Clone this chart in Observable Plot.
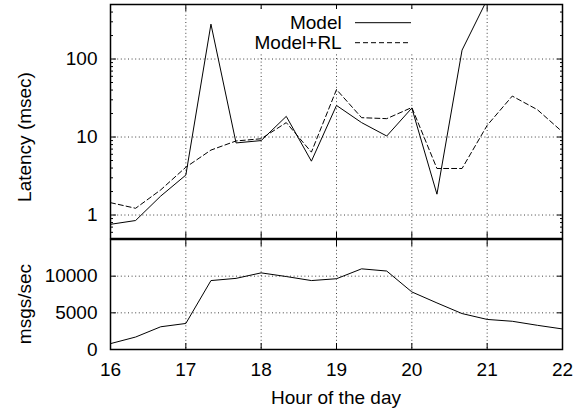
<!DOCTYPE html>
<html><head><meta charset="utf-8">
<script src="https://cdn.jsdelivr.net/npm/d3@7"></script>
<script src="https://cdn.jsdelivr.net/npm/@observablehq/plot@0.6"></script>
<style>
body{margin:0;background:#fff;}
#wrap{position:relative;width:584px;height:412px;font-family:"Liberation Sans",Arial,Helvetica,sans-serif;color:#000;}
#wrap svg{display:block}
.lab{position:absolute;font-size:19px;line-height:19px;white-space:nowrap;}
.rot{transform:translate(-50%,-50%) rotate(-90deg);}
</style></head><body><div id="wrap"></div>
<script>
// ---- data ----
const hours = [16, 16.3333, 16.6667, 17, 17.3333, 17.6667, 18, 18.3333, 18.6667, 19, 19.3333, 19.6667, 20, 20.3333, 20.6667, 21, 21.3333, 21.6667, 22];
const model = [0.76, 0.85, 1.75, 3.25, 280, 8.4, 9.0, 18.4, 4.9, 25.4, 15.3, 10.3, 23.5, 1.85, 130, 580, null, null, null];
const modelRL = [1.44, 1.22, 2.1, 4.1, 6.8, 8.9, 9.5, 15.3, 6.4, 40.6, 17.7, 17.2, 23.9, 3.95, 3.95, 14.1, 33.5, 22.4, 11.6];
const msgsPerSec = [800, 1700, 3100, 3550, 9400, 9700, 10450, 9950, 9400, 9650, 11000, 10700, 7850, 6350, 4900, 4100, 3850, 3300, 2800];
const series = ["Model", "Model+RL"];
const xTicks = [16, 17, 18, 19, 20, 21, 22];
const latTicks = [1, 10, 100];
const latMinor = [0.6, 0.7, 0.8, 0.9, 2, 3, 4, 5, 6, 7, 8, 9, 20, 30, 40, 50, 60, 70, 80, 90, 200, 300, 400];
const rateTicks = [0, 5000, 10000];
const xLabel = "Hour of the day";
const yLabelTop = "Latency (msec)";
const yLabelBottom = "msgs/sec";

// ---- tables ----
const lat = hours.map((h, i) => ({h, model: model[i], rl: modelRL[i]}));
const rate = hours.map((h, i) => ({h, v: msgsPerSec[i]}));

const font = '"Liberation Sans", Arial, Helvetica, sans-serif';
const style = {fontFamily: font, fontSize: "19px", color: "black", background: "white", overflow: "visible"};
const grid = {stroke: "black", strokeOpacity: 0.75, strokeWidth: 1, strokeDasharray: "1,2.6"};
const blank = () => "";

const topPlot = Plot.plot({
  width: 584, height: 239, marginLeft: 110, marginRight: 22, marginTop: 4, marginBottom: 1,
  style,
  x: {domain: [16, 22]},
  y: {type: "log", domain: [0.5, 500]},
  marks: [
    Plot.gridX(xTicks, grid),
    Plot.gridY(latTicks, grid),
    Plot.axisX(xTicks, {anchor: "bottom", tickSize: -6, tickFormat: blank, label: null}),
    Plot.axisX(xTicks, {anchor: "top", tickSize: -6, tickFormat: blank, label: null}),
    Plot.axisY(latTicks, {anchor: "left", tickSize: -6, tickPadding: 19, tickFormat: d => String(d), label: null}),
    Plot.axisY(latTicks, {anchor: "right", tickSize: -6, tickFormat: blank, label: null}),
    Plot.axisY(latMinor, {anchor: "left", tickSize: -3, tickFormat: blank, label: null}),
    Plot.axisY(latMinor, {anchor: "right", tickSize: -3, tickFormat: blank, label: null}),
    Plot.line(lat, {x: "h", y: "model", stroke: "black", strokeWidth: 1, clip: true}),
    Plot.line(lat, {x: "h", y: "rl", stroke: "black", strokeWidth: 1, strokeDasharray: "5,3", clip: true}),
    Plot.frame({stroke: "black", strokeWidth: 1.5})
  ]
});

const bottomPlot = Plot.plot({
  width: 584, height: 173, marginLeft: 110, marginRight: 22, marginTop: 0, marginBottom: 63,
  style,
  x: {domain: [16, 22]},
  y: {domain: [0, 15000]},
  marks: [
    Plot.gridX(xTicks, grid),
    Plot.gridY(rateTicks.filter(d => d > 0), grid),
    Plot.axisX(xTicks, {anchor: "bottom", tickSize: -6, tickPadding: 19, tickFormat: d => String(d), label: null}),
    Plot.axisX(xTicks, {anchor: "top", tickSize: -6, tickFormat: blank, label: null}),
    Plot.axisY(rateTicks, {anchor: "left", tickSize: -6, tickPadding: 19, tickFormat: d => String(d), label: null}),
    Plot.axisY(rateTicks, {anchor: "right", tickSize: -6, tickFormat: blank, label: null}),
    Plot.line(rate, {x: "h", y: "v", stroke: "black", strokeWidth: 1}),
    Plot.frame({stroke: "black", strokeWidth: 1.5})
  ]
});

const wrap = document.getElementById("wrap");
wrap.appendChild(topPlot);
wrap.appendChild(bottomPlot);

function addLabel(text, x, y, rotated) {
  const d = document.createElement("div");
  d.className = "lab" + (rotated ? " rot" : "");
  d.textContent = text;
  d.style.left = x + "px";
  d.style.top = y + "px";
  if (!rotated) d.style.transform = "translateX(-50%)";
  wrap.appendChild(d);
}
addLabel(yLabelTop, 24, 137, true);
addLabel(yLabelBottom, 24, 304, true);
addLabel(xLabel, 336, 388, false);

// legend
const leg = d3.select(wrap).append("svg")
  .attr("width", 584).attr("height", 60)
  .style("position", "absolute").style("left", "0px").style("top", "0px")
  .style("overflow", "visible");
leg.append("rect").attr("x", 248).attr("y", 9).attr("width", 167).attr("height", 43).attr("fill", "white");
series.forEach((s, i) => {
  const y = 22.7 + 20 * i;
  leg.append("text").attr("x", 341.7).attr("y", y).attr("dy", "0.35em")
    .attr("text-anchor", "end").attr("font-family", font).attr("font-size", 19).text(s);
  leg.append("line").attr("x1", 355).attr("x2", 411).attr("y1", y).attr("y2", y)
    .attr("stroke", "black").attr("stroke-width", 1)
    .attr("stroke-dasharray", i === 0 ? null : "5,3");
});
</script>
</body></html>
